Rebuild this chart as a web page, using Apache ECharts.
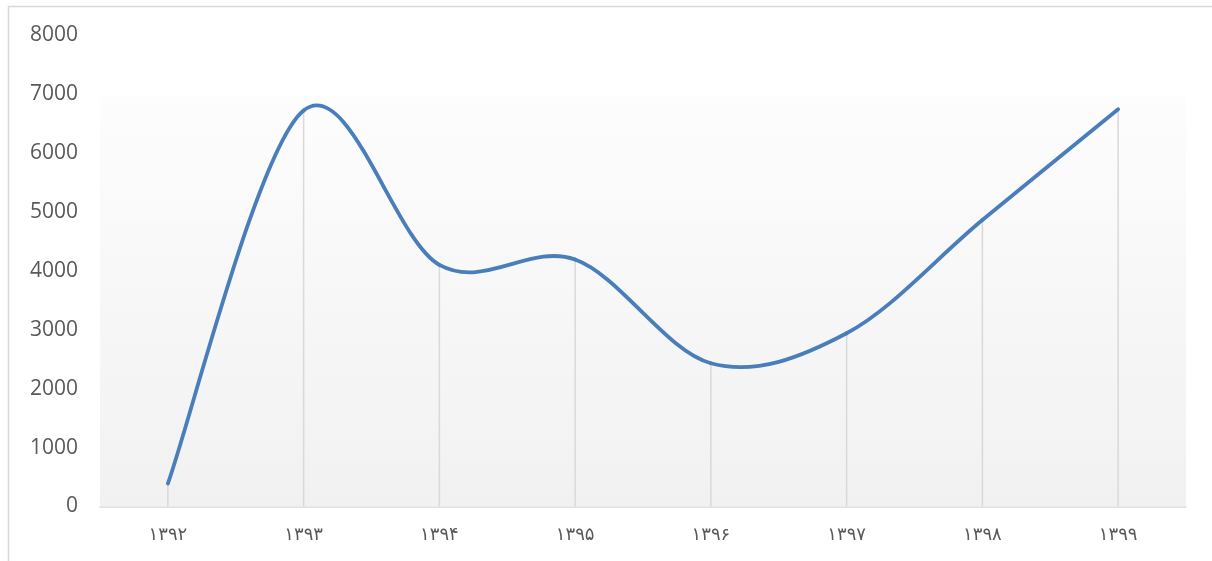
<!DOCTYPE html>
<html>
<head>
<meta charset="utf-8">
<script src="https://cdn.jsdelivr.net/npm/echarts@6/dist/echarts.min.js"></script>
<style>
html,body{margin:0;padding:0;background:#fff;}
#main{width:1212px;height:561px;}
</style>
</head>
<body>
<div id="main"></div>
<script>
var categories = ['۱۳۹۲','۱۳۹۳','۱۳۹۴','۱۳۹۵','۱۳۹۶','۱۳۹۷','۱۳۹۸','۱۳۹۹'];
var values = [390, 6720, 4100, 4190, 2430, 2940, 4860, 6740];
var yTicks = [0, 1000, 2000, 3000, 4000, 5000, 6000, 7000, 8000];

var chart = echarts.init(document.getElementById('main'), null, {renderer:'canvas'});

function renderSegment(params, api) {
  var i = params.dataIndex;
  var n = values.length;
  if (i >= n - 1) { return {type: 'group', children: []}; }
  var p0 = api.coord([Math.max(i - 1, 0), values[Math.max(i - 1, 0)]]);
  var p1 = api.coord([i, values[i]]);
  var p2 = api.coord([i + 1, values[i + 1]]);
  var p3 = api.coord([Math.min(i + 2, n - 1), values[Math.min(i + 2, n - 1)]]);
  var k = 1 / 6;
  return {
    type: 'bezierCurve',
    shape: {
      x1: p1[0], y1: p1[1],
      x2: p2[0], y2: p2[1],
      cpx1: p1[0] + (p2[0] - p0[0]) * k, cpy1: p1[1] + (p2[1] - p0[1]) * k,
      cpx2: p2[0] - (p3[0] - p1[0]) * k, cpy2: p2[1] - (p3[1] - p1[1]) * k
    },
    style: {fill: null, stroke: '#4a7ebb', lineWidth: 3.8, lineCap: 'round', lineJoin: 'round'}
  };
}

chart.setOption({
  animation: false,
  backgroundColor: '#ffffff',
  graphic: [{
    type: 'rect', silent: true, z: -10,
    shape: {x: 8.5, y: 6.5, width: 1250, height: 600},
    style: {fill: 'none', stroke: '#d9d9d9', lineWidth: 1.5}
  }],
  grid: {left: 100, right: 26, top: 35, bottom: 54.5, containLabel: false},
  xAxis: {
    type: 'category',
    data: categories,
    boundaryGap: true,
    axisLine: {show: true, lineStyle: {color: '#d9d9d9', width: 1.5}},
    axisTick: {show: false},
    axisLabel: {color: '#595959', fontSize: 18, fontFamily: 'DejaVu Sans', margin: 20}
  },
  yAxis: {
    type: 'value',
    min: yTicks[0],
    max: yTicks[yTicks.length - 1],
    interval: yTicks[1] - yTicks[0],
    axisLine: {show: false},
    axisTick: {show: false},
    splitLine: {show: false},
    axisLabel: {color: '#595959', fontSize: 21, fontFamily: 'Open Sans', margin: 22,
      formatter: function (v) { return String(v); }}
  },
  series: [
    {
      type: 'line', data: [], z: 0, silent: true,
      markArea: {
        silent: true,
        itemStyle: {
          color: new echarts.graphic.LinearGradient(0, 0, 0, 1, [
            {offset: 0, color: '#fdfdfd'}, {offset: 1, color: '#f1f1f1'}
          ])
        },
        data: [[{yAxis: 6960}, {yAxis: 0}]]
      }
    },
    {
      type: 'bar', data: values, z: 1, silent: true,
      barWidth: 1.5,
      itemStyle: {color: '#d9d9d9'}
    },
    {
      type: 'custom', z: 2,
      data: values.map(function (v, i) { return [i, v]; }),
      encode: {x: 0, y: 1},
      renderItem: renderSegment
    }
  ]
});
</script>
</body>
</html>
